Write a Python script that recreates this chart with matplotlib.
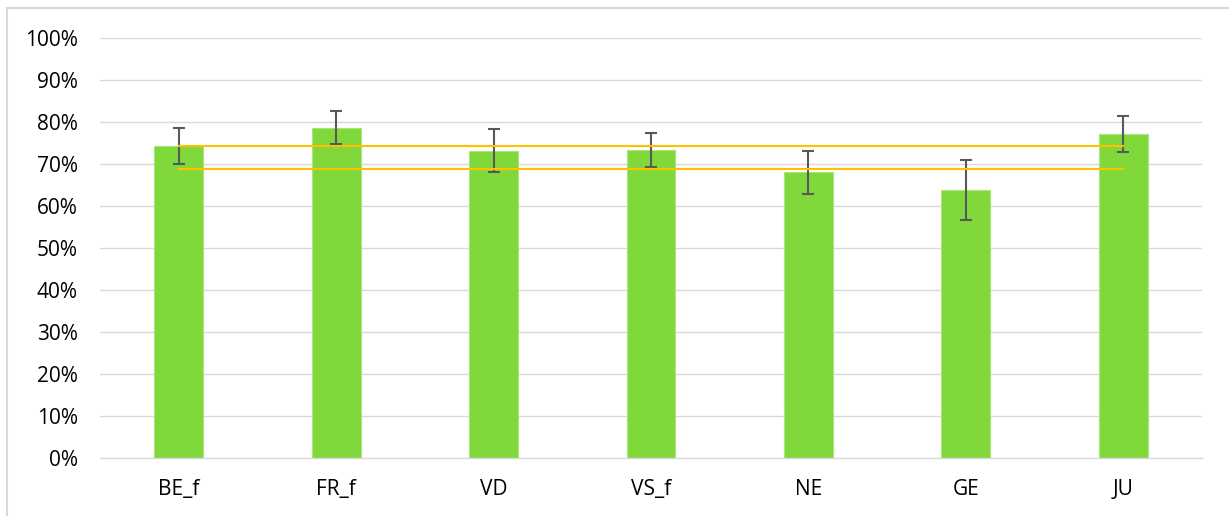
import matplotlib
matplotlib.use("Agg")
import matplotlib.pyplot as plt
from matplotlib.patches import Rectangle

# data (fractions)
cantons = ["BE_f", "FR_f", "VD", "VS_f", "NE", "GE", "JU"]
values = [0.743, 0.786, 0.731, 0.733, 0.680, 0.638, 0.771]
err_high = [0.786, 0.827, 0.783, 0.774, 0.731, 0.710, 0.814]
err_low = [0.700, 0.748, 0.680, 0.694, 0.629, 0.567, 0.728]
ref_upper = 0.744
ref_lower = 0.689

plt.rcParams['font.family'] = ['Open Sans', 'DejaVu Sans']

W, H = 1229, 516
fig = plt.figure(figsize=(W / 100, H / 100), dpi=100)
fig.patch.set_facecolor("white")

# outer chart border (partly cut by the picture)
fig.patches.append(Rectangle((7 / W, -0.1), 1.2, 1.1 - 8 / H, transform=fig.transFigure,
                             fill=False, edgecolor="#D9D9D9", linewidth=1.5))

ax = fig.add_axes([100 / W, (H - 458) / H, (1202 - 100) / W, (458 - 38) / H])

x = list(range(len(cantons)))
lower = [v - l for v, l in zip(values, err_low)]
upper = [h - v for v, h in zip(values, err_high)]

ax.bar(x, values, width=0.31, color="#80D83A", edgecolor="#A6E67A", linewidth=0.8, zorder=2)
ax.errorbar(x, values, yerr=[lower, upper], fmt="none", ecolor="#595959",
            elinewidth=1.5, capsize=4.5, capthick=1.5, zorder=3)

ax.plot([x[0], x[-1]], [ref_upper, ref_upper], color="#FFC000", linewidth=1.5, zorder=4)
ax.plot([x[0], x[-1]], [ref_lower, ref_lower], color="#FFC000", linewidth=1.5, zorder=4)

ax.set_xlim(-0.5, len(cantons) - 0.5)
ax.set_ylim(0, 1.0)
ax.set_yticks([i / 10 for i in range(11)])
ax.set_yticklabels([f"{i * 10}%" for i in range(11)])
ax.set_xticks(x)
ax.set_xticklabels(cantons)

ax.grid(axis="y", color="#D9D9D9", linewidth=1.0, zorder=0)
ax.set_axisbelow(True)
for side in ["top", "right", "left"]:
    ax.spines[side].set_visible(False)
ax.spines["bottom"].set_color("#D9D9D9")
ax.spines["bottom"].set_linewidth(1.0)

ax.tick_params(axis="both", length=0, labelsize=15, colors="#000000")
ax.tick_params(axis="y", pad=16)
ax.tick_params(axis="x", pad=15)

fig.savefig("out.png", dpi=100)
